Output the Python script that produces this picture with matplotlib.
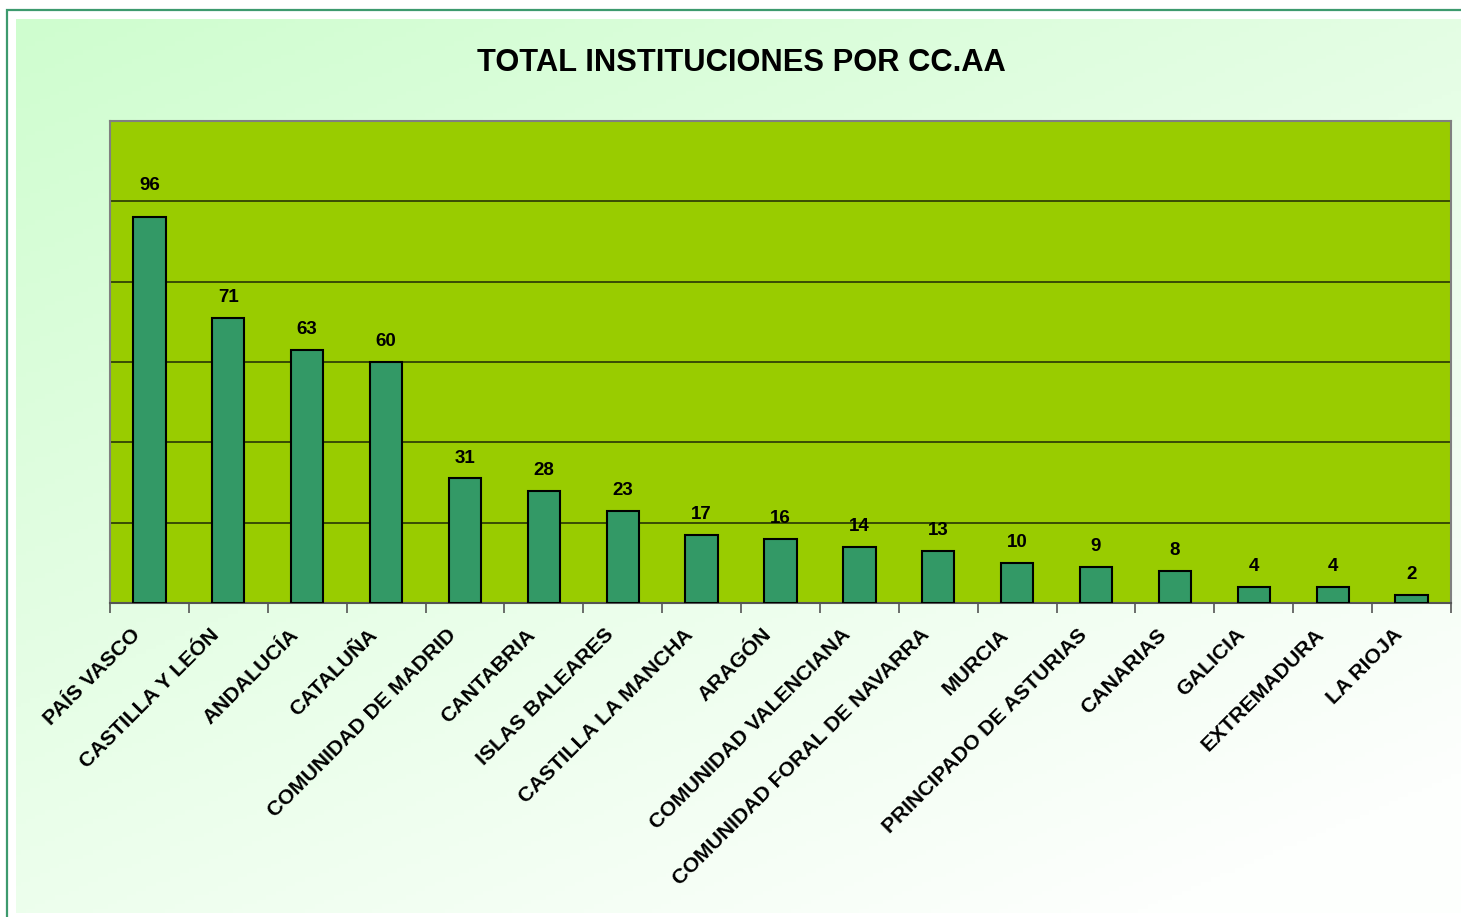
import numpy as np
import matplotlib
matplotlib.use("Agg")
import matplotlib.pyplot as plt
from matplotlib.patches import Rectangle
from matplotlib.transforms import ScaledTranslation, offset_copy

plt.rcParams['font.family'] = ['Liberation Sans', 'DejaVu Sans']

# ---- data ----
categories = ["PAÍS VASCO", "CASTILLA Y LEÓN", "ANDALUCÍA", "CATALUÑA",
              "COMUNIDAD DE MADRID", "CANTABRIA", "ISLAS BALEARES",
              "CASTILLA LA MANCHA", "ARAGÓN", "COMUNIDAD VALENCIANA",
              "COMUNIDAD FORAL DE NAVARRA", "MURCIA", "PRINCIPADO DE ASTURIAS",
              "CANARIAS", "GALICIA", "EXTREMADURA", "LA RIOJA"]
values = [96, 71, 63, 60, 31, 28, 23, 17, 16, 14, 13, 10, 9, 8, 4, 4, 2]
title = "TOTAL INSTITUCIONES POR CC.AA"

W, H = 1461, 917
fig = plt.figure(figsize=(W / 100, H / 100), dpi=100)
fig.patch.set_facecolor("white")

# gradient background
bg = fig.add_axes([16 / W, 4 / H, (W - 16) / W, (913 - 19) / H], zorder=-2)
nx, ny = 300, 200
xx, yy = np.meshgrid(np.linspace(0, 1, nx), np.linspace(0, 1, ny))
t = np.clip(0.45 * xx + 0.65 * yy, 0, 1)
c0 = np.array([0xcf, 0xfd, 0xcf]) / 255.0
c1 = np.array([0xfd, 0xff, 0xfd]) / 255.0
img = c0[None, None, :] * (1 - t[..., None]) + c1[None, None, :] * t[..., None]
bg.imshow(img, aspect="auto", origin="upper", extent=[0, 1, 0, 1])
bg.set_axis_off()

# outer border
fig.patches.append(Rectangle((7 / W, -0.05), 1.2, (917 - 10) / H + 0.05,
                             transform=fig.transFigure, fill=False,
                             edgecolor="#3d9a6e", linewidth=1.6, zorder=-1))

# main axes
left, right = 110 / W, 1451 / W
bottom, top = (H - 603) / H, (H - 121) / H
ax = fig.add_axes([left, bottom, right - left, top - bottom])
ax.set_facecolor("#99cc00")

n = len(categories)
x = np.arange(n)
ax.bar(x, values, width=0.41, color="#339966", edgecolor="black",
       linewidth=1.5, zorder=3)
ax.set_xlim(-0.5, n - 0.5)
ax.set_ylim(0, 120)
ax.set_yticks(np.arange(20, 120, 20))
ax.yaxis.grid(True, color="#1f2a05", linewidth=1.1, zorder=1)
ax.tick_params(axis="y", left=False, labelleft=False)

# tick marks at category boundaries
ax.set_xticks(np.arange(-0.5, n, 1.0), minor=True)
ax.tick_params(axis="x", which="minor", length=7, width=1.2, color="#555555",
               direction="out")
ax.set_xticks(x)
ax.tick_params(axis="x", which="major", length=0, pad=0)
labels = ax.set_xticklabels(categories, rotation=45, ha="right", va="top",
                            fontsize=15.3, fontweight="bold")
off = ScaledTranslation(-5 / 100, -22 / 100, fig.dpi_scale_trans)
for lab in labels:
    lab.set_transform(lab.get_transform() + off)

for s in ["left", "top", "right"]:
    ax.spines[s].set_color("#808080")
    ax.spines[s].set_linewidth(1.5)
ax.spines["bottom"].set_color("#555555")
ax.spines["bottom"].set_linewidth(1.5)

# data labels
for i, v in enumerate(values):
    dy = 32 if i == 0 else 20
    tr = offset_copy(ax.transData, fig=fig, x=0, y=dy, units="dots")
    ax.text(i, v, str(v), transform=tr, ha="center", va="center",
            fontsize=13.5, fontweight="bold", color="black", zorder=4)

fig.text(741 / W, (H - 63) / H, title, ha="center", va="center",
         fontsize=22.2, fontweight="bold", color="black")

fig.savefig("out.png", dpi=100)
